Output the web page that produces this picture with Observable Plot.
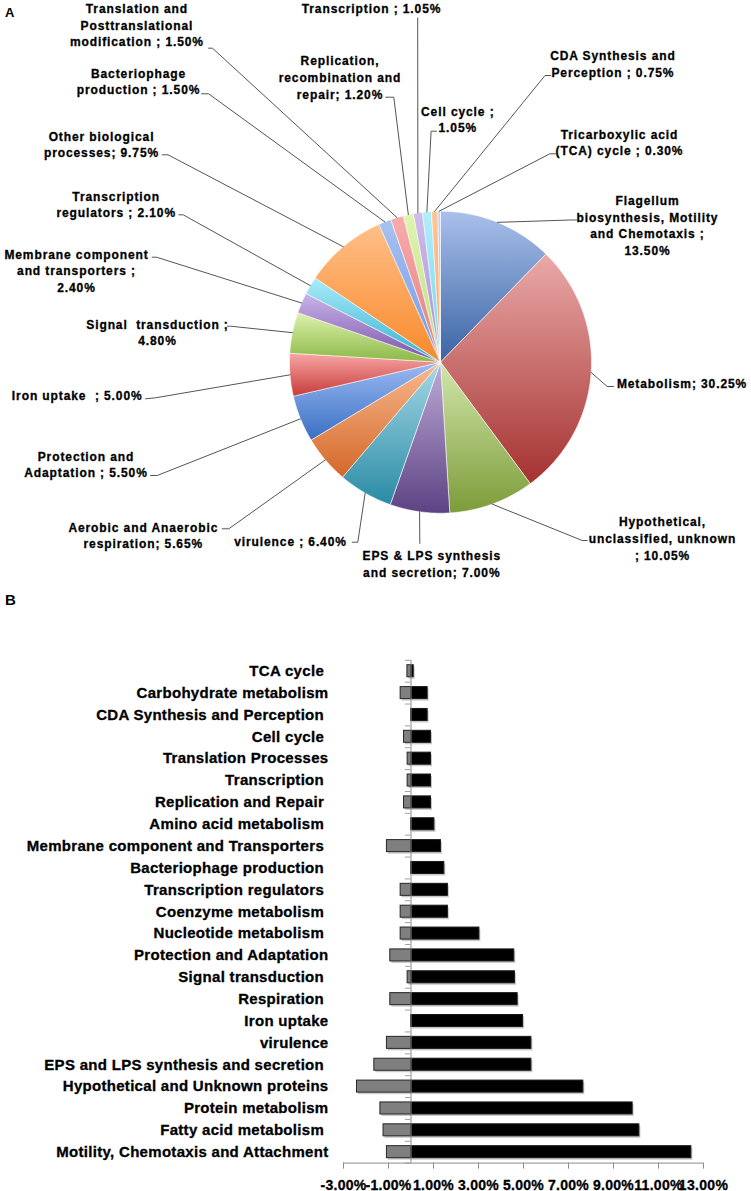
<!DOCTYPE html>
<html><head><meta charset="utf-8">
<script src="https://cdn.jsdelivr.net/npm/d3@7"></script>
<script src="https://cdn.jsdelivr.net/npm/@observablehq/plot@0.6"></script>
<style>
body{margin:0;background:#fff;width:751px;height:1191px;position:relative;overflow:hidden;font-family:"Liberation Sans",Arial,sans-serif;}
.panel{position:absolute;left:5px;font-weight:bold;line-height:1;color:#000;}
#pie{position:absolute;left:0;top:0;}
#bar{position:absolute;left:0;top:590px;}
#pie text, #bar text{stroke:#000;stroke-width:0.3px;}
</style></head><body>
<div id="pie"></div><div id="bar"></div>
<div class="panel" style="top:5.6px;font-size:13px">A</div>
<div class="panel" style="top:592px;font-size:15px">B</div>
<script>
// ---------- Panel A data ----------
const pieNames = [
  "Flagellum\nbiosynthesis, Motility\nand Chemotaxis ;\n",
  "Metabolism; ",
  "Hypothetical,\nunclassified, unknown\n; ",
  "EPS & LPS synthesis\nand secretion; ",
  "virulence ; ",
  "Aerobic and Anaerobic\nrespiration; ",
  "Protection and\nAdaptation ; ",
  "Iron uptake  ; ",
  "Signal  transduction ;\n",
  "Membrane component\nand transporters ;\n",
  "Transcription\nregulators ; ",
  "Other biological\nprocesses; ",
  "Bacteriophage\nproduction ; ",
  "Translation and\nPosttranslational\nmodification ; ",
  "Replication,\nrecombination and\nrepair; ",
  "Transcription ; ",
  "Cell cycle ;\n",
  "CDA Synthesis and\nPerception ; ",
  "Tricarboxylic acid\n(TCA) cycle ; "
];
const pieShares = [13.50, 30.25, 10.05, 7.00, 6.40, 5.65, 5.50, 5.00, 4.80, 2.40, 2.10, 9.75, 1.50, 1.50, 1.20, 1.05, 1.05, 0.75, 0.30];

// ---------- Panel B data ----------
const barCategories = [
  "TCA cycle ", "Carbohydrate metabolism", "CDA Synthesis and Perception ", "Cell cycle ",
  "Translation Processes", "Transcription ", "Replication and Repair ", "Amino acid metabolism ",
  "Membrane component and Transporters ", "Bacteriophage production ", "Transcription regulators ",
  "Coenzyme metabolism ", "Nucleotide metabolism ", "Protection and Adaptation", "Signal transduction ",
  "Respiration ", "Iron uptake", "virulence", "EPS and LPS synthesis and secretion ",
  "Hypothetical and Unknown proteins", "Protein metabolism", "Fatty acid metabolism ",
  "Motility, Chemotaxis and Attachment"
];
const upValues =   [0.12, 0.74, 0.74, 0.89, 0.89, 0.89, 0.89, 1.04, 1.33, 1.48, 1.64, 1.64, 3.04, 4.59, 4.62, 4.74, 4.98, 5.35, 5.35, 7.66, 9.85, 10.15, 12.46];
const downValues = [-0.16, -0.46, 0, -0.31, -0.15, -0.15, -0.31, 0, -1.07, 0, -0.46, -0.46, -0.46, -0.92, -0.15, -0.92, 0, -1.07, -1.63, -2.40, -1.36, -1.22, -1.07];
const xTicks = [-3, -1, 1, 3, 5, 7, 9, 11, 13];

// ---------- styles / layout ----------
const FONT = "'Liberation Sans', Arial, sans-serif";
const sliceColors = [
  ["#a9c0ea", "#3a63a4"], ["#eaa9a8", "#a43230"], ["#d2e6ab", "#7c9c39"], ["#beacd5", "#5c4284"],
  ["#a6d8e6", "#2a8ba5"], ["#f9b98f", "#d3682a"], ["#9bbaf2", "#396fc3"], ["#f8a6a6", "#c63b39"],
  ["#ddf3ad", "#8bb746"], ["#c9b3e7", "#7953a9"], ["#abebf9", "#33b0d0"], ["#ffbf88", "#f8892b"],
  ["#a8c2f1", "#7199df"], ["#f9acac", "#e47c7c"], ["#dff5b2", "#b8dd80"], ["#cfbdeb", "#a98cd1"],
  ["#b0eefb", "#74d4ec"], ["#ffc598", "#fba561"], ["#c2d4f3", "#9ab6e7"]
];
// label layout in page pixels: [textX, textY, leaderStartX, leaderStartY, kneeX, kneeY]
const labelLayout = [
  [647, 224, 576, 219.5, 570, 219.5],
  [681.5, 381.7, 613, 386, 606.7, 386],
  [662, 537, 586.7, 540, 581.7, 540],
  [431.3, 562.7, 419.3, 543, 419.3, 543],
  [290, 540, 351.7, 541.7, 357.3, 541.7],
  [142.8, 534.3, 221.7, 528.3, 228.3, 528.3],
  [85.5, 463.3, 150, 475, 156.7, 475],
  [76.7, 394, 145, 398.3, 155, 397.3],
  [157, 331, 226.7, 325.7, 230, 325.7],
  [76, 269.5, 151.7, 256.7, 156, 256.7],
  [115.7, 203.3, 178.3, 214.3, 182.7, 214.3],
  [101, 143, 161.7, 154.3, 167.5, 154.3],
  [138, 80, 201, 93.3, 208.1, 93.3],
  [136.4, 23.7, 208, 47.7, 212, 47.7],
  [339.5, 76.3, 385.2, 96.7, 393.3, 96.7],
  [371, 7.3, 417.2, 17.3, 417.2, 17.3],
  [457.3, 118.3, 436, 130.7, 430.6, 130.7],
  [612.4, 62.7, 550.2, 75, 544.5, 75],
  [619, 141, 555, 153.3, 549.3, 153.3]
];
const CX = 440, CY = 361.7, R = 151, PIE_W = 751, PIE_H = 590;
const ux = px => (px - CX) / R;
const uy = py => (CY - py) / R;

// ---------- Panel A: pie ----------
const arcs = d3.pie().sort(null).startAngle(0).endAngle(2 * Math.PI)(pieShares);
const slicePts = [];
arcs.forEach((a, i) => {
  const n = Math.max(3, Math.ceil((a.endAngle - a.startAngle) / 0.008));
  slicePts.push({k: i, x: 0, y: 0, g: `url(#g${i})`});
  for (let j = 0; j <= n; j++) {
    const t = a.startAngle + (a.endAngle - a.startAngle) * j / n;
    slicePts.push({k: i, x: Math.sin(t), y: Math.cos(t), g: `url(#g${i})`});
  }
  slicePts.push({k: i, x: 0, y: 0, g: `url(#g${i})`});
});
const leaderPts = [];
const labelRows = [];
arcs.forEach((a, i) => {
  const L = labelLayout[i];
  const mid = (a.startAngle + a.endAngle) / 2;
  leaderPts.push({k: i, x: ux(L[2]), y: uy(L[3])});
  leaderPts.push({k: i, x: ux(L[4]), y: uy(L[5])});
  leaderPts.push({k: i, x: Math.sin(mid), y: Math.cos(mid)});
  labelRows.push({x: ux(L[0]), y: uy(L[1]), text: pieNames[i] + pieShares[i].toFixed(2) + "%"});
});

const pie = Plot.plot({
  width: PIE_W, height: PIE_H,
  marginTop: 0, marginBottom: 0, marginLeft: 0, marginRight: 0,
  x: {domain: [ux(0), ux(PIE_W)], axis: null},
  y: {domain: [uy(PIE_H), uy(0)], axis: null},
  color: {type: "identity"},
  style: {fontFamily: FONT, fontWeight: "bold", letterSpacing: "0.9px", background: "#fff", color: "#000", overflow: "visible"},
  marks: [
    Plot.line(slicePts, {x: "x", y: "y", z: "k", fill: "g", stroke: "#ffffff", strokeWidth: 0.8, strokeOpacity: 0.7, curve: "linear"}),
    Plot.line(leaderPts, {x: "x", y: "y", z: "k", stroke: "#555555", strokeWidth: 1, curve: "linear"}),
    Plot.text(labelRows, {x: "x", y: "y", text: "text", fontSize: 12, fontWeight: "bold", lineHeight: 1.39, lineAnchor: "middle", textAnchor: "middle", fill: "#000"})
  ]
});
const defs = d3.select(pie).insert("defs", ":first-child");
sliceColors.forEach(([a, b], i) => {
  const g = defs.append("linearGradient").attr("id", "g" + i).attr("x1", 0).attr("y1", 0).attr("x2", 0).attr("y2", 1);
  g.append("stop").attr("offset", 0).attr("stop-color", a);
  g.append("stop").attr("offset", 1).attr("stop-color", b);
});
document.getElementById("pie").appendChild(pie);

// ---------- Panel B: bars ----------
const rows = barCategories.map((c, i) => ({i, c, up: upValues[i], down: downValues[i]}));
const negRows = rows.filter(d => d.down < 0);
const H = 0.275;
const bounds = d3.range(barCategories.length + 1).map(i => i - 0.5);
const bar = Plot.plot({
  width: 751, height: 601,
  marginTop: 69.8, marginBottom: 28.4, marginLeft: 343, marginRight: 48,
  x: {domain: [-3, 13]},
  y: {domain: [-0.5, barCategories.length - 0.5], reverse: true},
  style: {fontFamily: FONT, fontWeight: "bold", letterSpacing: "0.3px", background: "#fff", color: "#000", overflow: "visible"},
  marks: [
    Plot.rect(negRows, {x1: 0, x2: "down", y1: d => d.i - H, y2: d => d.i + H, fill: "#9a9a9a", fillOpacity: 0.55, dx: 1.5, dy: 2}),
    Plot.rect(rows, {x1: 0, x2: "up", y1: d => d.i - H, y2: d => d.i + H, fill: "#9a9a9a", fillOpacity: 0.55, dx: 1.5, dy: 2}),
    Plot.rect(negRows, {x1: 0, x2: "down", y1: d => d.i - H, y2: d => d.i + H, fill: "#7f7f7f", stroke: "#262626", strokeWidth: 1}),
    Plot.rect(rows, {x1: 0, x2: "up", y1: d => d.i - H, y2: d => d.i + H, fill: "#000", stroke: "#1a1a1a", strokeWidth: 1}),
    Plot.ruleX([0], {y1: -0.5, y2: barCategories.length - 0.5, stroke: "#8c8c8c", strokeWidth: 1}),
    Plot.ruleY(bounds, {x1: -0.25, x2: 0, stroke: "#a0a0a0", strokeWidth: 1}),
    Plot.ruleY([barCategories.length - 0.5], {x1: -3, x2: 13, stroke: "#8c8c8c", strokeWidth: 1}),
    Plot.axisX({ticks: xTicks, tickFormat: d => d.toFixed(2) + "%", tickSize: 6, tickPadding: 11, fontSize: 14, stroke: "#8c8c8c", fill: "#000", label: null}),
    Plot.axisY({ticks: d3.range(barCategories.length), tickFormat: i => barCategories[i], tickSize: 0, tickPadding: 15, fontSize: 15, fill: "#000", label: null})
  ]
});
document.getElementById("bar").appendChild(bar);
</script>
</body></html>
